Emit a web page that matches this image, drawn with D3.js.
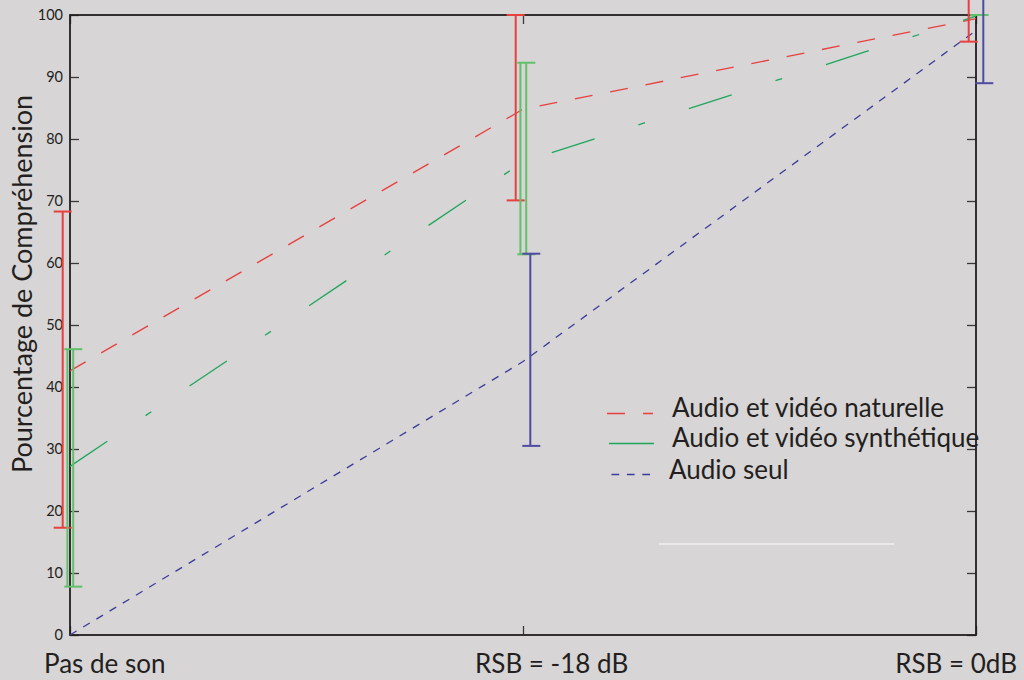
<!DOCTYPE html>
<html>
<head>
<meta charset="utf-8">
<script src="https://cdn.jsdelivr.net/npm/d3@7"></script>
<style>
  html, body { margin: 0; padding: 0; background: #d7d5d6; }
  svg { display: block; }
  text { font-family: Lato, "Liberation Sans", sans-serif; fill: #231f20; }
</style>
</head>
<body>
<svg id="chart" width="1024" height="680"></svg>
<script>
// ---------- data ----------
const categories = ["Pas de son", "RSB = -18 dB", "RSB = 0dB"];
const yTicks = [0, 10, 20, 30, 40, 50, 60, 70, 80, 90, 100];

const naturelle      = [42.6, 84.8, 99.4];
const naturelleLow   = [17.3, 70.1, 95.7];
const naturelleHigh  = [68.3, 100, 104];

const synthetique     = [27.2, 76.3, 99.8];
const synthetiqueLow  = [7.8, 61.4, 100];
const synthetiqueHigh = [46.1, 92.3, 100];

const seul     = [0, 44.1, 97.5];
const seulLow  = [null, 30.5, 89];
const seulHigh = [null, 61.5, 104];

const legendLabels = ["Audio et vidéo naturelle", "Audio et vidéo synthétique", "Audio seul"];

// ---------- layout ----------
const W = 1024, H = 680;
const L = 70, R = 976, T = 15, B = 635;
const svg = d3.select("#chart");

svg.append("rect").attr("width", W).attr("height", H).attr("fill", "#d7d5d6");

const x = d3.scalePoint().domain(categories).range([L, R]);
const y = d3.scaleLinear().domain([0, 100]).range([B, T]);

const series = [
  { name: legendLabels[0], vals: naturelle, lo: naturelleLow, hi: naturelleHigh,
    color: "#e8403e", barColor: "#e8403e", dash: "18,18", barOffsets: [-7.3], capShift: 0 },
  { name: legendLabels[1], vals: synthetique, lo: synthetiqueLow, hi: synthetiqueHigh,
    color: "#1fa65c", barColor: "#62c06a", dash: "45,46,7,46", barOffsets: [-2.6, 3.2], capShift: 3 },
  { name: legendLabels[2], vals: seul, lo: seulLow, hi: seulHigh,
    color: "#3d3b9a", barColor: "#4e4ca1", dash: "7.7,7.7", barOffsets: [7.3], capShift: 1 }
];

// ---------- frame & ticks ----------
const frameColor = "#231f20";
const axL = d3.axisRight(y).tickValues(yTicks).tickSize(9).tickFormat("");
const axR = d3.axisLeft(y).tickValues(yTicks).tickSize(9).tickFormat("");
const axB = d3.axisTop(x).tickSize(9).tickFormat("");
const axT = d3.axisBottom(x).tickSize(9).tickFormat("");

function styleAxis(g) {
  g.select(".domain").remove();
  g.selectAll(".tick line").attr("stroke", "#3a3839").attr("stroke-width", 1.3);
}
svg.append("g").attr("transform", `translate(${L},0)`).call(axL).call(styleAxis);
svg.append("g").attr("transform", `translate(${R},0)`).call(axR).call(styleAxis);
svg.append("g").attr("transform", `translate(0,${B})`).call(axB).call(styleAxis);
svg.append("g").attr("transform", `translate(0,${T})`).call(axT).call(styleAxis);

svg.append("rect")
  .attr("x", L).attr("y", T).attr("width", R - L).attr("height", B - T)
  .attr("fill", "none").attr("stroke", frameColor).attr("stroke-width", 1.8);

// tick labels (left)
svg.append("g").selectAll("text").data(yTicks).join("text")
  .attr("x", 63).attr("y", d => y(d)).attr("dy", "0.36em")
  .attr("text-anchor", "end").attr("font-size", 14.5)
  .attr("fill", "#2e2b2c")
  .text(d => d);

// ---------- data lines ----------
const line = d3.line().x((d, i) => x(categories[i])).y(d => y(d));
series.forEach(s => {
  svg.append("path").datum(s.vals)
    .attr("d", line)
    .attr("fill", "none").attr("stroke", s.color)
    .attr("stroke-width", 1.3).attr("stroke-dasharray", s.dash);
});

// ---------- error bars ----------
const capHalf = 9;
series.forEach(s => {
  const g = svg.append("g").attr("stroke", s.barColor).attr("stroke-width", 2).attr("fill", "none");
  categories.forEach((c, i) => {
    if (s.lo[i] == null) return;
    const xs = s.barOffsets.map(o => x(c) + o);
    xs.forEach(xx => {
      g.append("line").attr("x1", xx).attr("x2", xx)
        .attr("y1", y(s.lo[i])).attr("y2", y(s.hi[i]));
    });
    const cx = d3.mean(xs) + s.capShift;
    [s.lo[i], s.hi[i]].forEach(v => {
      g.append("line").attr("x1", cx - capHalf).attr("x2", cx + capHalf)
        .attr("y1", y(v)).attr("y2", y(v));
    });
  });
});

// ---------- axis labels ----------
const xLabelFont = 26;
const xLabelDx = [-26, -48, 41];   // start / end offsets from the category position
const xLabelAnchor = ["start", "start", "end"];
svg.append("g").selectAll("text").data(categories).join("text")
  .attr("x", (d, i) => x(d) + xLabelDx[i]).attr("y", 673)
  .attr("text-anchor", (d, i) => xLabelAnchor[i])
  .attr("font-size", xLabelFont)
  .text(d => d);

svg.append("text")
  .attr("transform", `translate(32,${(95 + 473) / 2}) rotate(-90)`)
  .attr("text-anchor", "middle").attr("font-size", 27)
  .text("Pourcentage de Compréhension");

// ---------- legend ----------
const legY = [413.5, 443.5, 474.5];
const legTextX = [672, 672, 669];
const legLineX = [[607, 653], [609, 654], [611.5, 650]];
const leg = svg.append("g");
series.forEach((s, i) => {
  leg.append("line")
    .attr("x1", legLineX[i][0]).attr("x2", legLineX[i][1])
    .attr("y1", legY[i]).attr("y2", legY[i])
    .attr("stroke", s.color).attr("stroke-width", 1.5)
    .attr("stroke-dasharray", s.dash);
  leg.append("text")
    .attr("x", legTextX[i]).attr("y", legY[i] + 3 + i * 0.5)
    .attr("font-size", 26)
    .text(s.name);
});

// stray white rule under the legend
svg.append("line")
  .attr("x1", 659).attr("x2", 894).attr("y1", 544).attr("y2", 544)
  .attr("stroke", "#ecebeb").attr("stroke-width", 2);
</script>
</body>
</html>
